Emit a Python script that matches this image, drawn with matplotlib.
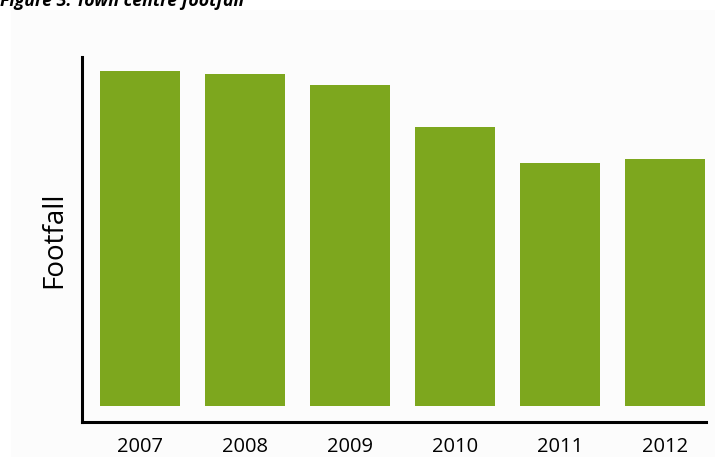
import matplotlib
matplotlib.use("Agg")
import matplotlib.pyplot as plt
from matplotlib.patches import Rectangle

years = ["2007", "2008", "2009", "2010", "2011", "2012"]
footfall = [335, 332, 321, 279, 243, 247]

W, H = 715, 457
fig = plt.figure(figsize=(W / 100, H / 100), dpi=100)
fig.patch.set_facecolor("white")
fig.patches.append(Rectangle((11 / W, 0), 1 - 11 / W, (H - 10) / H,
                             transform=fig.transFigure, facecolor="#FCFCFC",
                             edgecolor="none", zorder=-5))

ax = fig.add_axes([82 / W, (H - 422) / H, (706 - 82) / W, (422 - 57) / H])
ax.set_facecolor("none")
x = list(range(len(years)))
ax.bar(x, footfall, width=0.77, color="#7DA71E", bottom=0)
ax.set_xlim(-0.552, 5.39)
ax.set_ylim(-16, 349)
ax.set_xticks(x)
ax.set_xticklabels(years, fontsize=14.5, family=["Open Sans", "DejaVu Sans"])
ax.tick_params(axis="x", length=0, pad=10.5)
ax.set_yticks([])
for s in ["top", "right"]:
    ax.spines[s].set_visible(False)
for s in ["left", "bottom"]:
    ax.spines[s].set_linewidth(2.2)
    ax.spines[s].set_color("black")
ax.set_ylabel("Footfall", fontsize=20, family=["Open Sans", "DejaVu Sans"], labelpad=10)

fig.text(0, (H - 6) / H, "Figure 3: Town centre footfall", fontsize=12.8,
         fontweight="bold", fontstyle="italic", family=["Open Sans", "DejaVu Sans"],
         ha="left", va="baseline")

fig.savefig("out.png", dpi=100)
